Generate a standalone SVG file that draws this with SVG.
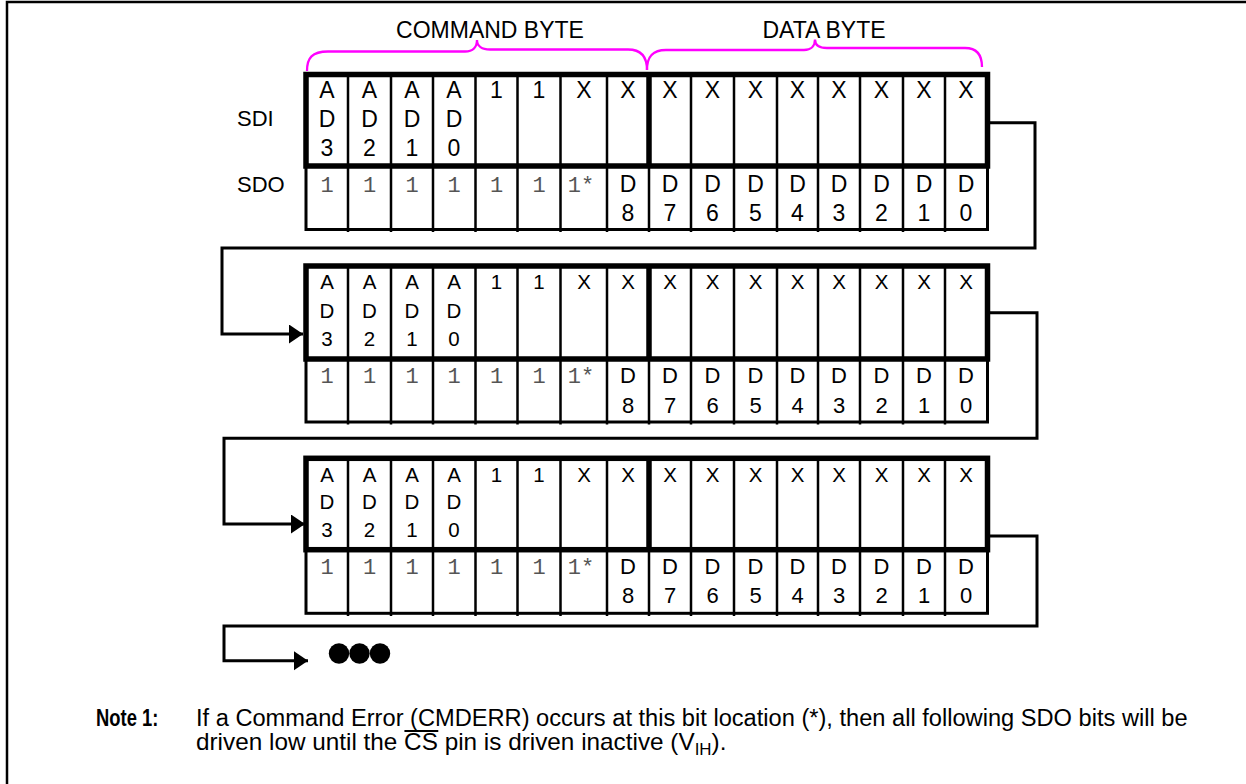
<svg xmlns="http://www.w3.org/2000/svg" width="1246" height="784" viewBox="0 0 1246 784">
<style>
.thick{fill:none;stroke:#000;stroke-width:5.5}
.thin{fill:none;stroke:#000;stroke-width:2.5}
.box{fill:none;stroke:#000;stroke-width:3}
.conn{fill:none;stroke:#000;stroke-width:3}
.brace{fill:none;stroke:#f0f;stroke-width:2.3}
.t1{font-family:"Liberation Sans",Arial,sans-serif;font-size:23px;text-anchor:middle;fill:#000}
.t2{font-family:"Liberation Sans",Arial,sans-serif;font-size:20.5px;text-anchor:middle;fill:#000}
.t3{font-family:"Liberation Sans",Arial,sans-serif;font-size:22px;text-anchor:middle;fill:#000}
.m{font-family:"Liberation Mono","Courier New",monospace;font-size:22px;text-anchor:middle;fill:#555}
.lbl{font-family:"Liberation Sans",Arial,sans-serif;font-size:22px;fill:#000}
.hdr{font-family:"Liberation Sans",Arial,sans-serif;font-size:23px;fill:#000;text-anchor:middle}
.note{font-family:"Liberation Sans",Arial,sans-serif;font-size:23px;fill:#000}
</style>
<defs>
<marker id="ah" markerUnits="userSpaceOnUse" markerWidth="15" markerHeight="20" refX="14" refY="9.5" orient="auto"><path d="M0,0L14,9.5L0,19z" fill="#000"/></marker>
</defs>
<rect width="1246" height="784" fill="#fff"/>
<path d="M7,784V2H1246" fill="none" stroke="#000" stroke-width="2.5"/>

<g id="headers">
<text class="hdr" x="490" y="38">COMMAND BYTE</text>
<text class="hdr" x="824" y="38">DATA BYTE</text>
<path class="brace" d="M307,71C307,58 312,51.5 328,51.5L465,51.5C473,51.5 477,47 477,40C477,46 482,49.5 490,49.5L628,49.5C641,49.5 647,56 647,70"/>
<path class="brace" d="M647,70C647,57 652,50 666,50L804,50C811,50 815,46 815,39.5C815,45 819,48 827,48L965,48C977,48 982,55 982,67"/>
<text class="lbl" x="237" y="126">SDI</text>
<text class="lbl" x="237" y="192">SDO</text>
</g>

<g id="frame1">
<rect class="box" x="306" y="166" width="681.5" height="63.5"/>
<path class="thin" d="M348,166V232M391,166V232M433,166V232M475.5,166V232M517.5,166V232M560.5,166V232M607,166V232M649,166V232M691,166V232M734,166V232M777,166V232M818,166V232M860,166V232M903,166V232M945,166V232"/>
<path class="thin" d="M348,74.5V166M391,74.5V166M433,74.5V166M475.5,74.5V166M517.5,74.5V166M560.5,74.5V166M607,74.5V166M691,74.5V166M734,74.5V166M777,74.5V166M818,74.5V166M860,74.5V166M903,74.5V166M945,74.5V166"/>
<rect class="thick" x="306" y="74.5" width="681.5" height="91.5"/>
<path class="thick" d="M649,74.5V166"/>
<text class="t1" x="327" y="98"><tspan x="327">A</tspan><tspan x="327" dy="29">D</tspan><tspan x="327" dy="29">3</tspan></text>
<text class="t1" x="369.5" y="98"><tspan x="369.5">A</tspan><tspan x="369.5" dy="29">D</tspan><tspan x="369.5" dy="29">2</tspan></text>
<text class="t1" x="412" y="98"><tspan x="412">A</tspan><tspan x="412" dy="29">D</tspan><tspan x="412" dy="29">1</tspan></text>
<text class="t1" x="454" y="98"><tspan x="454">A</tspan><tspan x="454" dy="29">D</tspan><tspan x="454" dy="29">0</tspan></text>
<text class="t1" x="496.5" y="98">1</text>
<text class="t1" x="539" y="98">1</text>
<text class="t1" x="584" y="98">X</text>
<text class="t1" x="628" y="98">X</text>
<text class="t1" x="670" y="98">X</text>
<text class="t1" x="712.5" y="98">X</text>
<text class="t1" x="755.5" y="98">X</text>
<text class="t1" x="797.5" y="98">X</text>
<text class="t1" x="839" y="98">X</text>
<text class="t1" x="881.5" y="98">X</text>
<text class="t1" x="924" y="98">X</text>
<text class="t1" x="966" y="98">X</text>
<text class="m" x="327" y="191.5">1</text>
<text class="m" x="369.5" y="191.5">1</text>
<text class="m" x="412" y="191.5">1</text>
<text class="m" x="454" y="191.5">1</text>
<text class="m" x="496.5" y="191.5">1</text>
<text class="m" x="539" y="191.5">1</text>
<text class="m" x="581" y="191.5">1*</text>
<text class="t1" x="628" y="191.5"><tspan x="628">D</tspan><tspan x="628" dy="29">8</tspan></text>
<text class="t1" x="670" y="191.5"><tspan x="670">D</tspan><tspan x="670" dy="29">7</tspan></text>
<text class="t1" x="712.5" y="191.5"><tspan x="712.5">D</tspan><tspan x="712.5" dy="29">6</tspan></text>
<text class="t1" x="755.5" y="191.5"><tspan x="755.5">D</tspan><tspan x="755.5" dy="29">5</tspan></text>
<text class="t1" x="797.5" y="191.5"><tspan x="797.5">D</tspan><tspan x="797.5" dy="29">4</tspan></text>
<text class="t1" x="839" y="191.5"><tspan x="839">D</tspan><tspan x="839" dy="29">3</tspan></text>
<text class="t1" x="881.5" y="191.5"><tspan x="881.5">D</tspan><tspan x="881.5" dy="29">2</tspan></text>
<text class="t1" x="924" y="191.5"><tspan x="924">D</tspan><tspan x="924" dy="29">1</tspan></text>
<text class="t1" x="966" y="191.5"><tspan x="966">D</tspan><tspan x="966" dy="29">0</tspan></text>
</g>

<g id="frame2">
<rect class="box" x="306" y="359" width="681.5" height="63"/>
<path class="thin" d="M348,359V424.5M391,359V424.5M433,359V424.5M475.5,359V424.5M517.5,359V424.5M560.5,359V424.5M607,359V424.5M649,359V424.5M691,359V424.5M734,359V424.5M777,359V424.5M818,359V424.5M860,359V424.5M903,359V424.5M945,359V424.5"/>
<path class="thin" d="M348,266V359M391,266V359M433,266V359M475.5,266V359M517.5,266V359M560.5,266V359M607,266V359M691,266V359M734,266V359M777,266V359M818,266V359M860,266V359M903,266V359M945,266V359"/>
<rect class="thick" x="306" y="266" width="681.5" height="93"/>
<path class="thick" d="M649,266V359"/>
<text class="t2" x="327" y="289"><tspan x="327">A</tspan><tspan x="327" dy="28.5">D</tspan><tspan x="327" dy="28.5">3</tspan></text>
<text class="t2" x="369.5" y="289"><tspan x="369.5">A</tspan><tspan x="369.5" dy="28.5">D</tspan><tspan x="369.5" dy="28.5">2</tspan></text>
<text class="t2" x="412" y="289"><tspan x="412">A</tspan><tspan x="412" dy="28.5">D</tspan><tspan x="412" dy="28.5">1</tspan></text>
<text class="t2" x="454" y="289"><tspan x="454">A</tspan><tspan x="454" dy="28.5">D</tspan><tspan x="454" dy="28.5">0</tspan></text>
<text class="t2" x="496.5" y="289">1</text>
<text class="t2" x="539" y="289">1</text>
<text class="t2" x="584" y="289">X</text>
<text class="t2" x="628" y="289">X</text>
<text class="t2" x="670" y="289">X</text>
<text class="t2" x="712.5" y="289">X</text>
<text class="t2" x="755.5" y="289">X</text>
<text class="t2" x="797.5" y="289">X</text>
<text class="t2" x="839" y="289">X</text>
<text class="t2" x="881.5" y="289">X</text>
<text class="t2" x="924" y="289">X</text>
<text class="t2" x="966" y="289">X</text>
<text class="m" x="327" y="383">1</text>
<text class="m" x="369.5" y="383">1</text>
<text class="m" x="412" y="383">1</text>
<text class="m" x="454" y="383">1</text>
<text class="m" x="496.5" y="383">1</text>
<text class="m" x="539" y="383">1</text>
<text class="m" x="581" y="383">1*</text>
<text class="t3" x="628" y="383"><tspan x="628">D</tspan><tspan x="628" dy="30">8</tspan></text>
<text class="t3" x="670" y="383"><tspan x="670">D</tspan><tspan x="670" dy="30">7</tspan></text>
<text class="t3" x="712.5" y="383"><tspan x="712.5">D</tspan><tspan x="712.5" dy="30">6</tspan></text>
<text class="t3" x="755.5" y="383"><tspan x="755.5">D</tspan><tspan x="755.5" dy="30">5</tspan></text>
<text class="t3" x="797.5" y="383"><tspan x="797.5">D</tspan><tspan x="797.5" dy="30">4</tspan></text>
<text class="t3" x="839" y="383"><tspan x="839">D</tspan><tspan x="839" dy="30">3</tspan></text>
<text class="t3" x="881.5" y="383"><tspan x="881.5">D</tspan><tspan x="881.5" dy="30">2</tspan></text>
<text class="t3" x="924" y="383"><tspan x="924">D</tspan><tspan x="924" dy="30">1</tspan></text>
<text class="t3" x="966" y="383"><tspan x="966">D</tspan><tspan x="966" dy="30">0</tspan></text>
</g>

<g id="frame3">
<rect class="box" x="306" y="549.7" width="681.5" height="63.6"/>
<path class="thin" d="M348,549.7V616M391,549.7V616M433,549.7V616M475.5,549.7V616M517.5,549.7V616M560.5,549.7V616M607,549.7V616M649,549.7V616M691,549.7V616M734,549.7V616M777,549.7V616M818,549.7V616M860,549.7V616M903,549.7V616M945,549.7V616"/>
<path class="thin" d="M348,458.3V549.7M391,458.3V549.7M433,458.3V549.7M475.5,458.3V549.7M517.5,458.3V549.7M560.5,458.3V549.7M607,458.3V549.7M691,458.3V549.7M734,458.3V549.7M777,458.3V549.7M818,458.3V549.7M860,458.3V549.7M903,458.3V549.7M945,458.3V549.7"/>
<rect class="thick" x="306" y="458.3" width="681.5" height="91.4"/>
<path class="thick" d="M649,458.3V549.7"/>
<text class="t2" x="327" y="481.5"><tspan x="327">A</tspan><tspan x="327" dy="27.5">D</tspan><tspan x="327" dy="28">3</tspan></text>
<text class="t2" x="369.5" y="481.5"><tspan x="369.5">A</tspan><tspan x="369.5" dy="27.5">D</tspan><tspan x="369.5" dy="28">2</tspan></text>
<text class="t2" x="412" y="481.5"><tspan x="412">A</tspan><tspan x="412" dy="27.5">D</tspan><tspan x="412" dy="28">1</tspan></text>
<text class="t2" x="454" y="481.5"><tspan x="454">A</tspan><tspan x="454" dy="27.5">D</tspan><tspan x="454" dy="28">0</tspan></text>
<text class="t2" x="496.5" y="481.5">1</text>
<text class="t2" x="539" y="481.5">1</text>
<text class="t2" x="584" y="481.5">X</text>
<text class="t2" x="628" y="481.5">X</text>
<text class="t2" x="670" y="481.5">X</text>
<text class="t2" x="712.5" y="481.5">X</text>
<text class="t2" x="755.5" y="481.5">X</text>
<text class="t2" x="797.5" y="481.5">X</text>
<text class="t2" x="839" y="481.5">X</text>
<text class="t2" x="881.5" y="481.5">X</text>
<text class="t2" x="924" y="481.5">X</text>
<text class="t2" x="966" y="481.5">X</text>
<text class="m" x="327" y="573.5">1</text>
<text class="m" x="369.5" y="573.5">1</text>
<text class="m" x="412" y="573.5">1</text>
<text class="m" x="454" y="573.5">1</text>
<text class="m" x="496.5" y="573.5">1</text>
<text class="m" x="539" y="573.5">1</text>
<text class="m" x="581" y="573.5">1*</text>
<text class="t3" x="628" y="573.5"><tspan x="628">D</tspan><tspan x="628" dy="29.5">8</tspan></text>
<text class="t3" x="670" y="573.5"><tspan x="670">D</tspan><tspan x="670" dy="29.5">7</tspan></text>
<text class="t3" x="712.5" y="573.5"><tspan x="712.5">D</tspan><tspan x="712.5" dy="29.5">6</tspan></text>
<text class="t3" x="755.5" y="573.5"><tspan x="755.5">D</tspan><tspan x="755.5" dy="29.5">5</tspan></text>
<text class="t3" x="797.5" y="573.5"><tspan x="797.5">D</tspan><tspan x="797.5" dy="29.5">4</tspan></text>
<text class="t3" x="839" y="573.5"><tspan x="839">D</tspan><tspan x="839" dy="29.5">3</tspan></text>
<text class="t3" x="881.5" y="573.5"><tspan x="881.5">D</tspan><tspan x="881.5" dy="29.5">2</tspan></text>
<text class="t3" x="924" y="573.5"><tspan x="924">D</tspan><tspan x="924" dy="29.5">1</tspan></text>
<text class="t3" x="966" y="573.5"><tspan x="966">D</tspan><tspan x="966" dy="29.5">0</tspan></text>
</g>

<g id="connectors">
<path class="conn" d="M990,122.7H1035V248H222V334H303" marker-end="url(#ah)"/>
<path class="conn" d="M990,312.7H1037V438.3H224V524H305" marker-end="url(#ah)"/>
<path class="conn" d="M990,536H1037V626H224V660.7H308" marker-end="url(#ah)"/>
</g>

<g id="ellipsis">
<circle cx="339" cy="653.5" r="10.2"/>
<circle cx="359.5" cy="653.5" r="10.2"/>
<circle cx="380" cy="653.5" r="10.2"/>
</g>

<g id="note">
<g transform="translate(96,0) scale(0.8,1)">
<text class="note" x="0" y="726" font-weight="bold">Note 1:</text>
</g>
<g transform="translate(196,0) scale(1.028,1)">
<text class="note" x="0" y="726">If a Command Error (CMDERR) occurs at this bit location (*), then all following SDO bits will be</text>
</g>
<g transform="translate(196,0) scale(1.058,1)">
<text class="note" x="0" y="750">driven low until the CS pin is driven inactive (V<tspan font-size="16" dy="5">IH</tspan><tspan dy="-5">).</tspan></text>
<line x1="197" y1="731" x2="229" y2="731" stroke="#000" stroke-width="2"/>
</g>
</g>
</svg>
